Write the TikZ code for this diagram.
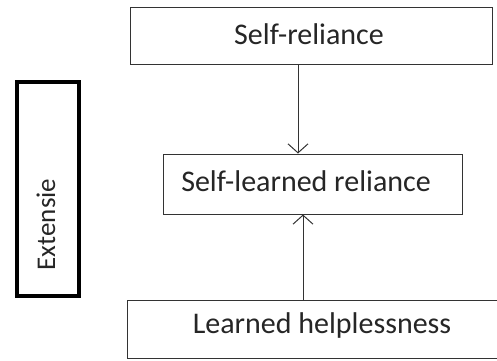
\documentclass[tikz,border=0pt]{standalone}
\usepackage{fontspec}
\setmainfont{Carlito}
\usetikzlibrary{arrows.meta}
\begin{document}
\begin{tikzpicture}[x=1pt,y=-1pt,
  lbl/.style={text=black!85,font=\fontsize{30}{34}\selectfont},
  box/.style={draw=black!80,line width=1pt,fill=white,inner sep=0pt,lbl},
  conn/.style={draw=black!80,line width=1pt,-{Straight Barb[length=9pt,width=20pt,line width=1pt]}}]
\useasboundingbox (0,0) rectangle (497,360);
\clip (0,0) rectangle (497,360);
\node[box,minimum width=362pt,minimum height=57pt] (top) at (311,35.5) {};
\node[lbl] (toptxt) at (309,34) {Self-reliance};
\node[box,minimum width=299pt,minimum height=60pt] (mid) at (312.5,184) {};
\node[lbl] (midtxt) at (306,181) {Self-learned reliance};
\node[box,minimum width=380pt,minimum height=58pt,anchor=north west] (bot) at (127,300) {};
\node[lbl] (bottxt) at (322,325) {Learned helplessness};
\node[draw=black,line width=4pt,minimum width=62pt,minimum height=214pt,inner sep=0pt] (ext) at (48,189) {};
\node[rotate=90,text=black!85,font=\fontsize{27}{30}\selectfont] (exttxt) at (46,224.5) {Extensie};
\coordinate (a1) at (298,64);
\coordinate (a2) at (303,300);
\draw[conn] (a1) -- (a1 |- mid.north);
\draw[conn] (a2) -- (a2 |- mid.south);
\end{tikzpicture}
\end{document}
